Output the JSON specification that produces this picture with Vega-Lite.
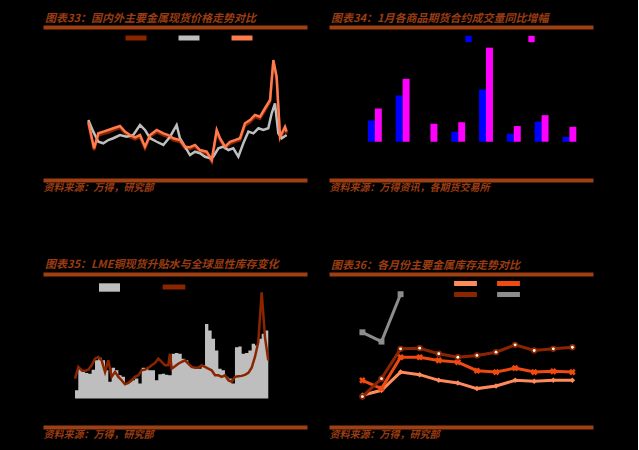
{
  "$schema": "https://vega.github.io/schema/vega-lite/v6.json",
  "background": "black",
  "padding": {"left": 43, "top": 13, "right": 45, "bottom": 11},
  "columns": 2,
  "spacing": {"row": 94, "column": 22},
  "bounds": "flush",
  "resolve": {
    "scale": {"color": "independent", "fill": "independent", "stroke": "independent", "shape": "independent"},
    "legend": {"color": "independent", "fill": "independent", "stroke": "independent", "shape": "independent"}
  },
  "config": {
    "view": {"stroke": null},
    "font": "Noto Sans CJK SC",
    "title": {"anchor": "start", "frame": "group", "color": "#9A3C12", "fontSize": 11, "fontWeight": "bold", "fontStyle": "italic", "offset": 3, "dx": 2},
    "axisX": {"domainColor": "#9E3F14", "domainWidth": 4, "ticks": false, "labels": false, "grid": false, "titleColor": "#9A3C12", "titleFontSize": 10, "titleFontWeight": "bold", "titleFontStyle": "italic", "titleAnchor": "start", "titleAlign": "left", "titlePadding": 2},
    "legend": {"labelColor": "black", "title": null, "padding": 0}
  },
  "concat": [
    {
      "title": "图表33：国内外主要金属现货价格走势对比",
      "width": 264,
      "height": 153,
      "data": {"values": [
        {"t": 2004.12, "s": "沪铜", "v": 37.0}, {"t": 2004.64, "s": "沪铜", "v": 19.5}, {"t": 2005.03, "s": "沪铜", "v": 29.0}, {"t": 2005.48, "s": "沪铜", "v": 30.2}, {"t": 2005.94, "s": "沪铜", "v": 31.0}, {"t": 2006.39, "s": "沪铜", "v": 32.5}, {"t": 2007.0, "s": "沪铜", "v": 34.0}, {"t": 2007.45, "s": "沪铜", "v": 30.5}, {"t": 2007.91, "s": "沪铜", "v": 28.0}, {"t": 2008.36, "s": "沪铜", "v": 26.5}, {"t": 2008.82, "s": "沪铜", "v": 28.0}, {"t": 2009.27, "s": "沪铜", "v": 20.5}, {"t": 2009.73, "s": "沪铜", "v": 28.2}, {"t": 2010.34, "s": "沪铜", "v": 31.3}, {"t": 2010.94, "s": "沪铜", "v": 29.2}, {"t": 2011.39, "s": "沪铜", "v": 28.0}, {"t": 2011.85, "s": "沪铜", "v": 26.0}, {"t": 2012.45, "s": "沪铜", "v": 24.8}, {"t": 2012.91, "s": "沪铜", "v": 20.6}, {"t": 2013.36, "s": "沪铜", "v": 20.2}, {"t": 2013.82, "s": "沪铜", "v": 21.7}, {"t": 2014.27, "s": "沪铜", "v": 18.4}, {"t": 2014.88, "s": "沪铜", "v": 17.2}, {"t": 2015.34, "s": "沪铜", "v": 11.8}, {"t": 2015.79, "s": "沪铜", "v": 30.8}, {"t": 2016.09, "s": "沪铜", "v": 26.0}, {"t": 2016.55, "s": "沪铜", "v": 20.6}, {"t": 2017.0, "s": "沪铜", "v": 23.7}, {"t": 2017.45, "s": "沪铜", "v": 24.9}, {"t": 2017.91, "s": "沪铜", "v": 26.0}, {"t": 2018.36, "s": "沪铜", "v": 35.5}, {"t": 2018.82, "s": "沪铜", "v": 37.8}, {"t": 2019.27, "s": "沪铜", "v": 41.0}, {"t": 2019.73, "s": "沪铜", "v": 40.0}, {"t": 2020.18, "s": "沪铜", "v": 45.4}, {"t": 2020.64, "s": "沪铜", "v": 51.0}, {"t": 2020.94, "s": "沪铜", "v": 77.0}, {"t": 2021.24, "s": "沪铜", "v": 66.0}, {"t": 2021.55, "s": "沪铜", "v": 27.0}, {"t": 2022.0, "s": "沪铜", "v": 33.4}, {"t": 2022.15, "s": "沪铜", "v": 30.3},
        {"t": 2004.12, "s": "伦铜", "v": 39.2}, {"t": 2004.57, "s": "伦铜", "v": 31.6}, {"t": 2005.03, "s": "伦铜", "v": 25.0}, {"t": 2005.48, "s": "伦铜", "v": 24.0}, {"t": 2005.94, "s": "伦铜", "v": 26.1}, {"t": 2006.39, "s": "伦铜", "v": 27.3}, {"t": 2007.0, "s": "伦铜", "v": 29.4}, {"t": 2007.61, "s": "伦铜", "v": 28.3}, {"t": 2008.21, "s": "伦铜", "v": 29.4}, {"t": 2008.82, "s": "伦铜", "v": 35.9}, {"t": 2009.27, "s": "伦铜", "v": 32.7}, {"t": 2009.73, "s": "伦铜", "v": 27.3}, {"t": 2010.34, "s": "伦铜", "v": 25.0}, {"t": 2010.94, "s": "伦铜", "v": 22.9}, {"t": 2011.55, "s": "伦铜", "v": 28.3}, {"t": 2012.15, "s": "伦铜", "v": 35.9}, {"t": 2012.45, "s": "伦铜", "v": 27.3}, {"t": 2012.91, "s": "伦铜", "v": 21.8}, {"t": 2013.36, "s": "伦铜", "v": 16.3}, {"t": 2013.82, "s": "伦铜", "v": 18.5}, {"t": 2014.27, "s": "伦铜", "v": 17.5}, {"t": 2014.73, "s": "伦铜", "v": 15.2}, {"t": 2015.18, "s": "伦铜", "v": 14.2}, {"t": 2015.48, "s": "伦铜", "v": 15.2}, {"t": 2015.94, "s": "伦铜", "v": 20.7}, {"t": 2016.39, "s": "伦铜", "v": 21.8}, {"t": 2016.85, "s": "伦铜", "v": 19.6}, {"t": 2017.3, "s": "伦铜", "v": 20.7}, {"t": 2017.76, "s": "伦铜", "v": 15.2}, {"t": 2018.21, "s": "伦铜", "v": 24.0}, {"t": 2018.67, "s": "伦铜", "v": 31.6}, {"t": 2019.12, "s": "伦铜", "v": 30.5}, {"t": 2019.58, "s": "伦铜", "v": 33.8}, {"t": 2020.03, "s": "伦铜", "v": 32.7}, {"t": 2020.48, "s": "伦铜", "v": 33.8}, {"t": 2020.79, "s": "伦铜", "v": 43.6}, {"t": 2021.09, "s": "伦铜", "v": 50.1}, {"t": 2021.39, "s": "伦铜", "v": 30.5}, {"t": 2021.7, "s": "伦铜", "v": 27.3}, {"t": 2022.15, "s": "伦铜", "v": 29.4},
        {"t": 2004.12, "s": "美铜", "v": 38.1}, {"t": 2004.64, "s": "美铜", "v": 20.7}, {"t": 2005.03, "s": "美铜", "v": 30.5}, {"t": 2005.48, "s": "美铜", "v": 31.6}, {"t": 2005.94, "s": "美铜", "v": 32.7}, {"t": 2006.39, "s": "美铜", "v": 33.8}, {"t": 2007.0, "s": "美铜", "v": 35.3}, {"t": 2007.45, "s": "美铜", "v": 31.6}, {"t": 2007.91, "s": "美铜", "v": 29.4}, {"t": 2008.36, "s": "美铜", "v": 27.9}, {"t": 2008.82, "s": "美铜", "v": 29.4}, {"t": 2009.27, "s": "美铜", "v": 21.8}, {"t": 2009.73, "s": "美铜", "v": 29.4}, {"t": 2010.34, "s": "美铜", "v": 32.7}, {"t": 2010.94, "s": "美铜", "v": 30.5}, {"t": 2011.39, "s": "美铜", "v": 29.4}, {"t": 2011.85, "s": "美铜", "v": 27.3}, {"t": 2012.45, "s": "美铜", "v": 26.1}, {"t": 2012.91, "s": "美铜", "v": 21.8}, {"t": 2013.36, "s": "美铜", "v": 21.4}, {"t": 2013.82, "s": "美铜", "v": 22.9}, {"t": 2014.27, "s": "美铜", "v": 19.6}, {"t": 2014.88, "s": "美铜", "v": 18.5}, {"t": 2015.34, "s": "美铜", "v": 13.1}, {"t": 2015.79, "s": "美铜", "v": 32.7}, {"t": 2016.09, "s": "美铜", "v": 27.3}, {"t": 2016.55, "s": "美铜", "v": 21.8}, {"t": 2017.0, "s": "美铜", "v": 25.0}, {"t": 2017.45, "s": "美铜", "v": 26.1}, {"t": 2017.91, "s": "美铜", "v": 27.3}, {"t": 2018.36, "s": "美铜", "v": 37.1}, {"t": 2018.82, "s": "美铜", "v": 39.2}, {"t": 2019.27, "s": "美铜", "v": 42.5}, {"t": 2019.73, "s": "美铜", "v": 41.4}, {"t": 2020.18, "s": "美铜", "v": 46.9}, {"t": 2020.64, "s": "美铜", "v": 52.3}, {"t": 2020.94, "s": "美铜", "v": 78.4}, {"t": 2021.24, "s": "美铜", "v": 67.5}, {"t": 2021.55, "s": "美铜", "v": 28.3}, {"t": 2022.0, "s": "美铜", "v": 34.8}, {"t": 2022.15, "s": "美铜", "v": 31.6}
      ]},
      "layer": [
        {
          "transform": [{"filter": "datum.s === '沪铜'"}],
          "mark": {"type": "line", "strokeWidth": 2.5},
          "encoding": {
            "x": {"field": "t", "type": "quantitative", "scale": {"domain": [2000, 2024], "nice": false}, "axis": {"orient": "bottom", "title": "资料来源：万得，研究部"}},
            "y": {"field": "v", "type": "quantitative", "scale": {"domain": [0, 100], "nice": false}, "axis": null},
            "color": {"field": "s", "type": "nominal", "scale": {"domain": ["沪铜", "伦铜", "美铜"], "range": ["#8B2500", "#BEBEBE", "#FF7A4D"]},
              "legend": {"orient": "none", "legendX": 85, "legendY": 3, "direction": "horizontal", "symbolType": "M-2,0H2", "symbolSize": 110, "symbolStrokeWidth": 5, "labelFontSize": 10, "labelOffset": 4, "columnPadding": 0}}
          }
        },
        {
          "transform": [{"filter": "datum.s === '伦铜'"}],
          "mark": {"type": "line", "strokeWidth": 2.5},
          "encoding": {
            "x": {"field": "t", "type": "quantitative", "axis": null},
            "y": {"field": "v", "type": "quantitative", "axis": null},
            "color": {"field": "s", "type": "nominal", "legend": null}
          }
        },
        {
          "transform": [{"filter": "datum.s === '美铜'"}],
          "mark": {"type": "line", "strokeWidth": 2.5},
          "encoding": {
            "x": {"field": "t", "type": "quantitative", "axis": {"orient": "top", "title": null}},
            "y": {"field": "v", "type": "quantitative", "axis": null},
            "color": {"field": "s", "type": "nominal", "legend": null}
          }
        }
      ]
    },
    {
      "title": "图表34：1月各商品期货合约成交量同比增幅",
      "width": 264,
      "height": 153,
      "data": {"values": [
        {"c": "铜", "s": "2021年1月", "v": 11.1}, {"c": "铜", "s": "2022年1月", "v": 17.4},
        {"c": "铝", "s": "2021年1月", "v": 24.2}, {"c": "铝", "s": "2022年1月", "v": 32.9},
        {"c": "锌", "s": "2022年1月", "v": 9.4},
        {"c": "铅", "s": "2021年1月", "v": 5.2}, {"c": "铅", "s": "2022年1月", "v": 10.2},
        {"c": "镍", "s": "2021年1月", "v": 27.3}, {"c": "镍", "s": "2022年1月", "v": 49.2},
        {"c": "锡", "s": "2021年1月", "v": 4.2}, {"c": "锡", "s": "2022年1月", "v": 8.2},
        {"c": "黄金", "s": "2021年1月", "v": 10.5}, {"c": "黄金", "s": "2022年1月", "v": 13.9},
        {"c": "白银", "s": "2021年1月", "v": 2.6}, {"c": "白银", "s": "2022年1月", "v": 7.8}
      ]},
      "layer": [
        {
          "mark": {"type": "bar"},
          "encoding": {
            "x": {"field": "c", "type": "nominal", "sort": null, "scale": {"paddingInner": 0.5, "paddingOuter": 1.18, "align": 0.7}, "axis": {"orient": "bottom", "title": "资料来源：万得资讯，各期货交易所", "labels": false}},
            "xOffset": {"field": "s", "type": "nominal", "scale": {"domain": ["2021年1月", "2022年1月"], "paddingInner": 0, "paddingOuter": 0}},
            "y": {"field": "v", "type": "quantitative", "stack": null, "scale": {"domain": [-20, 60], "nice": false}, "axis": null},
            "color": {"field": "s", "type": "nominal", "scale": {"domain": ["2021年1月", "2022年1月"], "range": ["#0000FF", "#FF00FF"]},
              "legend": {"orient": "none", "legendX": 134.5, "legendY": 7, "direction": "horizontal", "symbolType": "square", "symbolSize": 40, "symbolStrokeWidth": 0, "labelFontSize": 10, "labelOffset": 4, "columnPadding": 1}}
          }
        },
        {
          "mark": {"type": "bar", "opacity": 0},
          "encoding": {
            "x": {"field": "c", "type": "nominal", "sort": null, "axis": {"orient": "top", "title": null, "labels": false}},
            "y": {"field": "v", "type": "quantitative", "stack": null, "axis": null}
          }
        }
      ]
    },
    {
      "title": "图表35：LME铜现货升贴水与全球显性库存变化",
      "width": 264,
      "height": 153,
      "data": {"values": [
        {"t": 2002.91, "bar": 6.6, "line": 15.9}, {"t": 2003.21, "bar": 23.9, "line": 25.3}, {"t": 2003.52, "bar": 21.3, "line": 22.6}, {"t": 2003.82, "bar": 20.5, "line": 22.1}, {"t": 2004.12, "bar": 19.9, "line": 23.1}, {"t": 2004.42, "bar": 23.1, "line": 26.6}, {"t": 2004.73, "bar": 30.6, "line": 31.9}, {"t": 2005.03, "bar": 32.7, "line": 33.3}, {"t": 2005.33, "bar": 30.6, "line": 30.6}, {"t": 2005.64, "bar": 22.6, "line": 21.3},
        {"t": 2005.94, "bar": 13.3, "line": 30.6}, {"t": 2006.24, "bar": 24.7, "line": 17.3}, {"t": 2006.55, "bar": 22.6, "line": 21.3}, {"t": 2006.85, "bar": 18.6, "line": 17.3}, {"t": 2007.15, "bar": 17.3, "line": 14.6}, {"t": 2007.45, "bar": 12.0, "line": 11.4}, {"t": 2007.76, "bar": 13.3, "line": 12.5}, {"t": 2008.06, "bar": 14.6, "line": 14.6}, {"t": 2008.36, "bar": 15.9, "line": 17.3}, {"t": 2008.67, "bar": 12.0, "line": 18.6},
        {"t": 2008.97, "bar": 24.7, "line": 22.6}, {"t": 2009.27, "bar": 23.9, "line": 23.1}, {"t": 2009.58, "bar": 22.6, "line": 24.7}, {"t": 2009.88, "bar": 22.6, "line": 26.6}, {"t": 2010.18, "bar": 14.6, "line": 28.5}, {"t": 2010.48, "bar": 19.4, "line": 31.9}, {"t": 2010.79, "bar": 19.9, "line": 29.3}, {"t": 2011.09, "bar": 19.1, "line": 26.6}, {"t": 2011.39, "bar": 18.6, "line": 26.6}, {"t": 2011.54, "bar": 18.6, "line": 35.9},
        {"t": 2011.7, "bar": 35.9, "line": 23.9}, {"t": 2012.0, "bar": 36.4, "line": 25.8}, {"t": 2012.3, "bar": 35.9, "line": 27.9}, {"t": 2012.61, "bar": 31.9, "line": 29.3}, {"t": 2012.91, "bar": 30.6, "line": 30.6}, {"t": 2013.21, "bar": 26.6, "line": 27.9}, {"t": 2013.51, "bar": 25.3, "line": 25.3}, {"t": 2013.82, "bar": 24.7, "line": 24.7}, {"t": 2014.12, "bar": 23.9, "line": 24.7}, {"t": 2014.42, "bar": 26.6, "line": 26.6},
        {"t": 2014.73, "bar": 59.9, "line": 25.3}, {"t": 2015.03, "bar": 54.6, "line": 23.9}, {"t": 2015.33, "bar": 47.9, "line": 22.6}, {"t": 2015.64, "bar": 38.6, "line": 18.6}, {"t": 2015.94, "bar": 23.9, "line": 18.6}, {"t": 2016.24, "bar": 22.6, "line": 17.3}, {"t": 2016.54, "bar": 17.3, "line": 18.6}, {"t": 2016.85, "bar": 15.9, "line": 14.6}, {"t": 2017.15, "bar": 12.0, "line": 13.3}, {"t": 2017.45, "bar": 41.2, "line": 17.3},
        {"t": 2017.76, "bar": 41.8, "line": 17.8}, {"t": 2018.06, "bar": 35.9, "line": 18.1}, {"t": 2018.36, "bar": 36.4, "line": 18.9}, {"t": 2018.67, "bar": 38.6, "line": 20.5}, {"t": 2018.97, "bar": 43.9, "line": 24.7}, {"t": 2019.27, "bar": 42.6, "line": 33.3}, {"t": 2019.57, "bar": 47.9, "line": 45.2}, {"t": 2019.88, "bar": 51.9, "line": 85.2}, {"t": 2020.18, "bar": 54.6, "line": 49.2}, {"t": 2020.48, "bar": 77.2, "line": 30.6}
      ]},
      "layer": [
        {
          "mark": {"type": "area", "interpolate": "step-after"},
          "encoding": {
            "x": {"field": "t", "type": "quantitative", "scale": {"domain": [2000, 2024], "nice": false}, "axis": {"orient": "bottom", "title": "资料来源：万得，研究部"}},
            "y": {"field": "bar", "type": "quantitative", "scale": {"domain": [-23, 100], "nice": false}, "axis": null},
            "fill": {"datum": "全球显性库存", "type": "nominal", "scale": {"range": ["#BEBEBE"]},
              "legend": {"orient": "none", "legendX": 56, "legendY": 3, "symbolType": "M-1,-0.4H1V0.4H-1Z", "symbolSize": 441, "symbolStrokeWidth": 0, "labelFontSize": 10}}
          }
        },
        {
          "mark": {"type": "line", "strokeWidth": 2.5},
          "encoding": {
            "x": {"field": "t", "type": "quantitative", "axis": {"orient": "top", "title": null}},
            "y": {"field": "line", "type": "quantitative", "axis": null},
            "stroke": {"datum": "LME铜升贴水", "type": "nominal", "scale": {"range": ["#8B2500"]},
              "legend": {"orient": "none", "legendX": 117, "legendY": -1, "symbolType": "M-1,0H1", "symbolSize": 515, "symbolStrokeWidth": 5, "labelFontSize": 10}}
          }
        }
      ]
    },
    {
      "title": "图表36：各月份主要金属库存走势对比",
      "width": 264,
      "height": 153,
      "data": {"values": [
        {"m": 1, "s": "19年", "v": 20.8}, {"m": 2, "s": "19年", "v": 24.0}, {"m": 3, "s": "19年", "v": 35.9}, {"m": 4, "s": "19年", "v": 34.2}, {"m": 5, "s": "19年", "v": 30.5}, {"m": 6, "s": "19年", "v": 28.8}, {"m": 7, "s": "19年", "v": 25.1}, {"m": 8, "s": "19年", "v": 26.8}, {"m": 9, "s": "19年", "v": 30.5}, {"m": 10, "s": "19年", "v": 29.9}, {"m": 11, "s": "19年", "v": 30.5}, {"m": 12, "s": "19年", "v": 30.5},
        {"m": 1, "s": "20年", "v": 30.5}, {"m": 2, "s": "20年", "v": 25.1}, {"m": 3, "s": "20年", "v": 45.6}, {"m": 4, "s": "20年", "v": 45.6}, {"m": 5, "s": "20年", "v": 43.5}, {"m": 6, "s": "20年", "v": 42.4}, {"m": 7, "s": "20年", "v": 36.8}, {"m": 8, "s": "20年", "v": 35.9}, {"m": 9, "s": "20年", "v": 38.5}, {"m": 10, "s": "20年", "v": 35.9}, {"m": 11, "s": "20年", "v": 36.4}, {"m": 12, "s": "20年", "v": 35.9},
        {"m": 1, "s": "21年", "v": 19.9}, {"m": 2, "s": "21年", "v": 31.6}, {"m": 3, "s": "21年", "v": 51.1}, {"m": 4, "s": "21年", "v": 51.5}, {"m": 5, "s": "21年", "v": 47.9}, {"m": 6, "s": "21年", "v": 45.6}, {"m": 7, "s": "21年", "v": 46.8}, {"m": 8, "s": "21年", "v": 48.9}, {"m": 9, "s": "21年", "v": 53.7}, {"m": 10, "s": "21年", "v": 50.0}, {"m": 11, "s": "21年", "v": 51.1}, {"m": 12, "s": "21年", "v": 52.1},
        {"m": 1, "s": "22年", "v": 61.9}, {"m": 2, "s": "22年", "v": 55.8}, {"m": 3, "s": "22年", "v": 86.8}
      ]},
      "layer": [
        {
          "mark": {"type": "line", "strokeWidth": 3},
          "encoding": {
            "x": {"field": "m", "type": "quantitative", "scale": {"domain": [-0.75, 13.08], "nice": false}, "axis": {"orient": "bottom", "title": "资料来源：万得，研究部"}},
            "y": {"field": "v", "type": "quantitative", "scale": {"domain": [0, 100], "nice": false}, "axis": null},
            "color": {"field": "s", "type": "nominal", "scale": {"domain": ["19年", "20年", "21年", "22年"], "range": ["#FF8A5C", "#EE4A12", "#8B2500", "#8C8C8C"]},
              "legend": {"orient": "none", "legendX": 125, "legendY": 4, "columns": 2, "direction": "horizontal", "symbolType": "M-3,0H3", "symbolSize": 58, "symbolStrokeWidth": 5, "symbolOffset": 5, "clipHeight": 11, "labelFontSize": 7, "labelOffset": 10, "columnPadding": -10, "rowPadding": 0}}
          }
        },
        {
          "transform": [{"filter": "datum.s === '19年'"}],
          "mark": {"type": "point", "filled": true, "shape": "diamond", "size": 30, "color": "#FF8A5C", "opacity": 1},
          "encoding": {
            "x": {"field": "m", "type": "quantitative", "axis": null},
            "y": {"field": "v", "type": "quantitative", "axis": null}
          }
        },
        {
          "transform": [{"filter": "datum.s === '20年'"}],
          "mark": {"type": "point", "filled": true, "shape": "cross", "angle": 45, "size": 45, "color": "#EE4A12", "opacity": 1},
          "encoding": {
            "x": {"field": "m", "type": "quantitative", "axis": null},
            "y": {"field": "v", "type": "quantitative", "axis": null}
          }
        },
        {
          "transform": [{"filter": "datum.s === '21年'"}],
          "mark": {"type": "point", "filled": true, "shape": "circle", "size": 40, "color": "#8B2500", "opacity": 1},
          "encoding": {
            "x": {"field": "m", "type": "quantitative", "axis": null},
            "y": {"field": "v", "type": "quantitative", "axis": null}
          }
        },
        {
          "transform": [{"filter": "datum.s === '21年'"}],
          "mark": {"type": "point", "filled": true, "shape": "circle", "size": 8, "color": "white", "opacity": 1},
          "encoding": {
            "x": {"field": "m", "type": "quantitative", "axis": null},
            "y": {"field": "v", "type": "quantitative", "axis": null}
          }
        },
        {
          "transform": [{"filter": "datum.s === '22年'"}],
          "mark": {"type": "point", "filled": true, "shape": "square", "size": 35, "color": "#8C8C8C", "opacity": 1},
          "encoding": {
            "x": {"field": "m", "type": "quantitative", "axis": {"orient": "top", "title": null}},
            "y": {"field": "v", "type": "quantitative", "axis": null}
          }
        }
      ]
    }
  ]
}
